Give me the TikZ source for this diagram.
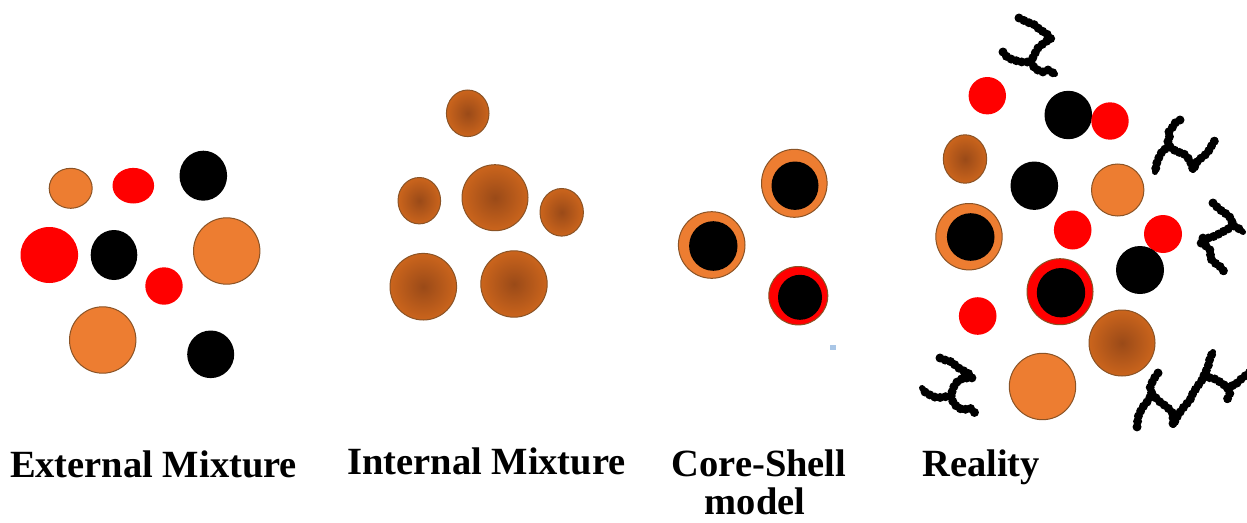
\documentclass[tikz,border=0pt]{standalone}
\usepackage{fontspec}
\setmainfont{Liberation Serif}

\definecolor{aeroOrange}{HTML}{ED7D31}
\definecolor{rimBrown}{HTML}{8A5326}
\definecolor{shDark}{HTML}{9A4A18}
\definecolor{shLight}{HTML}{E0701E}
\definecolor{iconBlue}{HTML}{A9C6E6}
\pgfdeclareradialshading{brownball}{\pgfpoint{0bp}{0bp}}{color(0bp)=(shDark); color(36bp)=(shLight); color(50bp)=(shLight)}

\tikzset{
  plainorange/.style={fill=aeroOrange, draw=rimBrown, line width=1pt},
  redpart/.style={fill=red},
  blackpart/.style={fill=black},
  shell/.style={draw=rimBrown, line width=1pt},
  brownshade/.style={shading=brownball, draw=rimBrown, line width=1pt},
  % a chain of beads: a thick core line plus round dots along it
  soot/.style={draw=black, line width=6pt, line cap=round, line join=round,
    postaction={draw=black, line width=9pt, line cap=round, dash pattern=on 0pt off 5.5pt}},
  label/.style={font=\bfseries\fontsize{38.5}{44}\selectfont, anchor=base, inner sep=0pt}
}

\begin{document}
\begin{tikzpicture}[x=1pt,y=-1pt]
\useasboundingbox (0,0) rectangle (1247,522);

% ---------- External mixture ----------
\draw[plainorange] (70.7,188.3) ellipse [x radius=21.5pt, y radius=20pt];
\fill[redpart] (133.3,185.7) ellipse [x radius=20.8pt, y radius=17.8pt];
\fill[blackpart] (203.3,175.7) ellipse [x radius=23.8pt, y radius=25pt];
\fill[redpart] (49.3,255) ellipse [x radius=28.8pt, y radius=28pt];
\fill[blackpart] (114,255) ellipse [x radius=23.3pt, y radius=25pt];
\fill[redpart] (164,286) circle (18.7pt);
\draw[plainorange] (226.7,251) circle (33.2pt);
\draw[plainorange] (102.7,340) circle (33.2pt);
\fill[blackpart] (210.7,354.3) ellipse [x radius=23.5pt, y radius=23.8pt];

% ---------- Internal mixture ----------
\shadedraw[brownshade] (467.7,113.3) ellipse [x radius=21.3pt, y radius=23.3pt];
\shadedraw[brownshade] (419.3,200.7) ellipse [x radius=21.3pt, y radius=23.2pt];
\shadedraw[brownshade] (495,197.7) circle (33pt);
\shadedraw[brownshade] (561.7,212.3) ellipse [x radius=21.7pt, y radius=23.8pt];
\shadedraw[brownshade] (423.3,286.7) circle (33.3pt);
\shadedraw[brownshade] (514,284) circle (33.2pt);

% ---------- Core-shell ----------
\draw[plainorange] (794.3,183.3) ellipse [x radius=32.8pt, y radius=34pt];
\fill[blackpart] (795,185.7) ellipse [x radius=23.5pt, y radius=24.2pt];
\draw[plainorange] (711.7,245) circle (33.3pt);
\fill[blackpart] (713.3,246) ellipse [x radius=24.2pt, y radius=24.8pt];
\draw[shell, fill=red] (798.3,295.7) ellipse [x radius=29.5pt, y radius=29.2pt];
\fill[blackpart] (800,297.3) ellipse [x radius=22pt, y radius=22.5pt];
\fill[iconBlue] (830.3,345) rectangle (836.3,350);

% ---------- Reality ----------
\fill[redpart] (987.3,95.7) circle (18.7pt);
\fill[blackpart] (1068.3,115) ellipse [x radius=23.8pt, y radius=24.2pt];
\fill[redpart] (1110,121) circle (18.7pt);
\shadedraw[brownshade] (965,159) ellipse [x radius=21.7pt, y radius=24.2pt];
\fill[blackpart] (1034.3,185.7) ellipse [x radius=23.8pt, y radius=24.2pt];
\draw[plainorange] (1117.7,190) ellipse [x radius=26.2pt, y radius=26pt];
\fill[redpart] (1072.7,230) ellipse [x radius=18.8pt, y radius=19.5pt];
\draw[plainorange] (969,236.7) circle (33.2pt);
\fill[blackpart] (970.7,237) circle (23.8pt);
\fill[redpart] (1163,234) circle (19pt);
\fill[blackpart] (1140,270) circle (24pt);
\draw[shell, fill=red] (1060,291.7) circle (33pt);
\fill[blackpart] (1061,292.7) ellipse [x radius=24.2pt, y radius=24.7pt];
\fill[redpart] (977.7,316) circle (18.8pt);
\shadedraw[brownshade] (1122,343) circle (33pt);
\draw[plainorange] (1042.5,386.5) circle (33.2pt);

% soot aggregates (bead chains)
\path[soot] (1019,18) -- (1027,22) -- (1035,25) -- (1040,30) -- (1046,33) -- (1051,39)
  -- (1045,42) -- (1038,48) -- (1034,55) -- (1031,62);
\path[soot] (1003,52) -- (1007,57) -- (1013,60) -- (1022,62) -- (1031,62);
\path[soot] (1031,62) -- (1035,69) -- (1043,72) -- (1048,70) -- (1055,74);

\path[soot] (1180,120) -- (1175,123) -- (1172,128) -- (1168,133) -- (1170,138) -- (1167,143) -- (1170,147);
\path[soot] (1170,147) -- (1163,150) -- (1160,155) -- (1157,162) -- (1155,172);
\path[soot] (1170,147) -- (1177,152) -- (1183,153) -- (1188,158) -- (1192,165) -- (1193,170)
  -- (1198,160) -- (1203,157) -- (1208,152) -- (1212,145) -- (1215,140);

\path[soot] (1213,203) -- (1218,208) -- (1223,212) -- (1228,215) -- (1232,220) -- (1232,225)
  -- (1238,228) -- (1243,232);
\path[soot] (1232,225) -- (1227,230) -- (1222,232) -- (1217,235) -- (1210,238) -- (1203,238)
  -- (1201,243) -- (1206,246) -- (1211,251) -- (1210,258) -- (1215,263) -- (1222,268) -- (1224,272);

\path[soot] (940,358) -- (945,360) -- (952,362) -- (957,367) -- (962,370) -- (968,373) -- (972,378)
  -- (963,378) -- (957,382) -- (953,388) -- (951,396);
\path[soot] (951,396) -- (943,397) -- (937,398) -- (930,395) -- (925,392) -- (922,388);
\path[soot] (951,396) -- (953,402) -- (957,407) -- (963,410) -- (970,408) -- (975,413);

\path[soot] (1158,373) -- (1153,380) -- (1150,388) -- (1152,394) -- (1147,402) -- (1142,408)
  -- (1138,417) -- (1137,427);
\path[soot] (1152,394) -- (1160,402) -- (1167,407) -- (1172,412) -- (1173,418) -- (1173,425)
  -- (1178,415) -- (1183,408) -- (1190,400) -- (1193,393) -- (1197,387) -- (1202,380)
  -- (1205,373) -- (1208,367) -- (1210,358) -- (1213,352);
\path[soot] (1204,377) -- (1213,378) -- (1220,382) -- (1227,387) -- (1230,393) -- (1227,400);
\path[soot] (1227,387) -- (1235,385) -- (1240,380) -- (1245,376) -- (1250,372);

% ---------- labels ----------
\node[label] (lblext) at (153.5,477) {External Mixture};
\node[label] (lblint) at (486.5,474.5) {Internal Mixture};
\node[label] (lblcs) at (759,476.5) {Core-Shell};
\node[label] (lblmodel) at (755,514) {model};
\node[label] (lblreal) at (981,476) {Reality};
\end{tikzpicture}
\end{document}
